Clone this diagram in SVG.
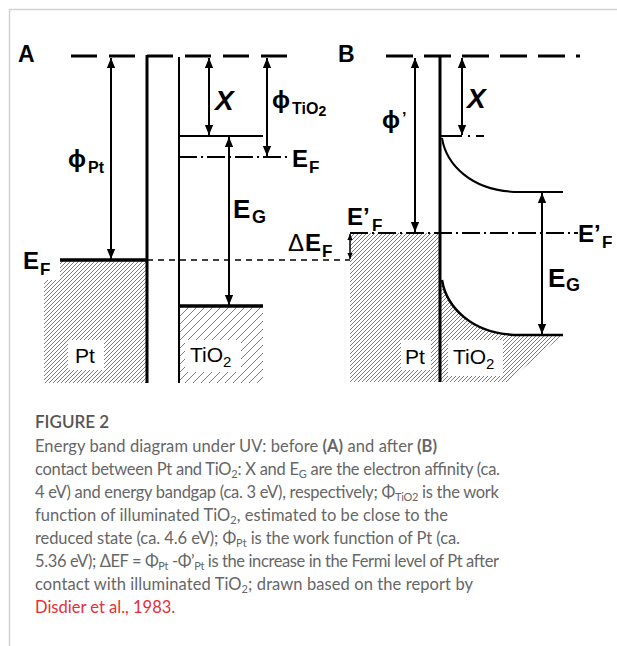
<svg xmlns="http://www.w3.org/2000/svg" width="617" height="646" viewBox="0 0 617 646">
<style>
.lbl{font-family:"Liberation Sans","DejaVu Sans",Arial,sans-serif;font-weight:bold;fill:#000}
.reg{font-family:"Liberation Sans","DejaVu Sans",Arial,sans-serif;font-weight:normal;fill:#000}
.cap{font-family:Lato,"Open Sans",sans-serif;font-size:16.5px;font-weight:400;fill:#666}
.ln{stroke:#000;fill:none}
.arr{stroke:#000;stroke-width:2;fill:none;marker-start:url(#ah);marker-end:url(#ah)}
.dd{stroke-dasharray:18 4 2 4}
</style>
<defs>
<marker id="ah" markerUnits="userSpaceOnUse" markerWidth="10" markerHeight="12" viewBox="0 0 12 10" refX="12" refY="5" orient="auto-start-reverse"><path d="M0,0 L12,5 L0,10 Z" fill="#000"/></marker>
<marker id="ahs" markerUnits="userSpaceOnUse" markerWidth="6" markerHeight="7" viewBox="0 0 8 7" refX="8" refY="3.5" orient="auto-start-reverse"><path d="M0,0 L8,3.5 L0,7 Z" fill="#000"/></marker>
<pattern id="hd" patternUnits="userSpaceOnUse" width="4" height="4"><path d="M-1,1 L1,-1 M0,4 L4,0 M3,5 L5,3" stroke="#444" stroke-width="0.7"/></pattern>
<pattern id="hs" patternUnits="userSpaceOnUse" width="8" height="8"><path d="M-2,2 L2,-2 M0,8 L8,0 M6,10 L10,6" stroke="#444" stroke-width="0.7"/></pattern>
</defs>
<rect x="0" y="0" width="617" height="646" fill="#fff"/>
<path d="M9.5,646 L9.5,9.5 L617,9.5" stroke="#d2d2d2" stroke-width="1.5" fill="none"/>

<g id="panelA">
<text class="lbl" x="18" y="62" font-size="23">A</text>
<g id="A-PtRegion">
<path d="M60,261 L147,261 L147,383 L44,383 L44,280 L60,280 Z" fill="url(#hd)"/>
<rect x="68" y="340" width="36" height="30" fill="#fff"/>
<text class="reg" x="75" y="363" font-size="21">Pt</text>
</g>
<g id="A-TiO2Region">
<rect x="179" y="306" width="84" height="77" fill="url(#hs)"/>
<rect x="185" y="340" width="56" height="32" fill="#fff"/>
<text class="reg" x="190" y="362" font-size="21">TiO<tspan font-size="15" dy="5">2</tspan></text>
</g>
<g id="A-levels">
<line class="ln" x1="71" y1="56" x2="288" y2="56" stroke-width="3" stroke-dasharray="26 12"/>
<line class="ln" x1="147" y1="55" x2="147" y2="383" stroke-width="3"/>
<line class="ln" x1="179" y1="57" x2="179" y2="383" stroke-width="2"/>
<line class="ln" x1="179" y1="136" x2="263" y2="136" stroke-width="2"/>
<line class="ln dd" x1="179" y1="157" x2="288" y2="157" stroke-width="2"/>
<line class="ln" x1="179" y1="306" x2="263" y2="306" stroke-width="3.5"/>
<line class="ln" x1="60" y1="260" x2="147" y2="260" stroke-width="3.5"/>
<line class="ln" x1="147" y1="260" x2="350" y2="260" stroke-width="1.5" stroke-dasharray="6 5"/>
</g>
<text class="lbl" x="23" y="269" font-size="24">E</text><text class="lbl" x="40" y="275" font-size="17">F</text>
<text class="lbl" x="68" y="167" font-size="24">ϕ</text><text class="lbl" x="88" y="173" font-size="16">Pt</text>
<text class="lbl" x="215" y="110" font-size="28" font-style="italic">X</text>
<text class="lbl" x="272" y="108" font-size="24">ϕ</text><text class="lbl" x="292" y="114" font-size="16">TiO<tspan font-size="14" dy="2">2</tspan></text>
<text class="lbl" x="292" y="167" font-size="24">E</text><text class="lbl" x="309" y="173" font-size="17">F</text>
<text class="lbl" x="233" y="218" font-size="26">E</text><text class="lbl" x="252" y="223" font-size="18">G</text>
<text class="reg" x="288" y="251" font-size="24">Δ</text><text class="lbl" x="305" y="251" font-size="24">E</text><text class="lbl" x="322" y="257" font-size="17">F</text>
</g>

<g id="panelB">
<text class="lbl" x="338" y="62" font-size="23">B</text>
<g id="B-PtRegion">
<rect x="350" y="233" width="90" height="149" fill="url(#hd)"/>
<rect x="401" y="340" width="30" height="30" fill="#fff"/>
<text class="reg" x="405" y="364" font-size="21">Pt</text>
</g>
<g id="B-TiO2Region">
<path d="M441,280 C446,305 470,335 520,335 L563,335 L507,382 L441,382 Z" fill="url(#hd)"/>
<rect x="448" y="340" width="55" height="36" fill="#fff"/>
<text class="reg" x="453" y="364" font-size="21">TiO<tspan font-size="15" dy="5">2</tspan></text>
</g>
<g id="B-levels">
<line class="ln" x1="386" y1="56" x2="580" y2="56" stroke-width="3" stroke-dasharray="27 11"/>
<line class="ln" x1="440" y1="57" x2="440" y2="382" stroke-width="3"/>
<line class="ln" x1="440" y1="136" x2="462" y2="136" stroke-width="2"/>
<path class="ln" d="M468,136 L484,136" stroke-width="2" stroke-dasharray="2 6 8 0"/>
<path class="ln" d="M442,138 C446,163 470,192 520,192 L563,192" stroke-width="2"/>
<line class="ln dd" x1="350" y1="233" x2="578" y2="233" stroke-width="2"/>
<path class="ln" d="M442,280 C446,305 470,335 520,335 L563,335" stroke-width="2.5"/>
</g>
<text class="lbl" x="382" y="128" font-size="24">ϕ</text><text class="lbl" x="402" y="124" font-size="16">’</text>
<text class="lbl" x="467" y="108" font-size="28" font-style="italic">X</text>
<text class="lbl" x="347" y="225" font-size="24">E’</text><text class="lbl" x="372" y="231" font-size="17">F</text>
<text class="lbl" x="578" y="242" font-size="24">E’</text><text class="lbl" x="602" y="248" font-size="17">F</text>
<text class="lbl" x="548" y="287" font-size="26">E</text><text class="lbl" x="566" y="291" font-size="18">G</text>
</g>

<g id="connectors">
<line class="arr" x1="111" y1="58" x2="111" y2="259"/>
<line class="arr" x1="209" y1="58" x2="209" y2="135"/>
<line class="arr" x1="267" y1="58" x2="267" y2="156"/>
<line class="arr" x1="229" y1="137" x2="229" y2="305"/>
<line class="arr" x1="415" y1="58" x2="415" y2="232"/>
<line class="arr" x1="462" y1="58" x2="462" y2="135"/>
<line class="arr" x1="542" y1="193" x2="542" y2="334"/>
<line x1="350" y1="234" x2="350" y2="259" stroke="#000" stroke-width="1.5" marker-start="url(#ahs)" marker-end="url(#ahs)"/>
</g>

<g id="caption">
<text class="cap" x="35" y="428" style="font-size:17px;font-weight:600;fill:#555">FIGURE 2</text>
<text class="cap" x="35" y="452" textLength="402" lengthAdjust="spacing">Energy band diagram under UV: before <tspan style="font-weight:bold">(A)</tspan> and after <tspan style="font-weight:bold">(B)</tspan></text>
<text class="cap" x="35" y="475" textLength="465" lengthAdjust="spacing">contact between Pt and TiO<tspan font-size="11" dy="3">2</tspan><tspan dy="-3">: X and E</tspan><tspan font-size="11" dy="3">G</tspan><tspan dy="-3"> are the electron affinity (ca.</tspan></text>
<text class="cap" x="35" y="498" textLength="464" lengthAdjust="spacing">4 eV) and energy bandgap (ca. 3 eV), respectively; Φ<tspan font-size="11" dy="3">TiO2</tspan><tspan dy="-3"> is the work</tspan></text>
<text class="cap" x="35" y="521" textLength="413" lengthAdjust="spacing">function of illuminated TiO<tspan font-size="11" dy="3">2</tspan><tspan dy="-3">, estimated to be close to the</tspan></text>
<text class="cap" x="35" y="544" textLength="425" lengthAdjust="spacing">reduced state (ca. 4.6 eV); Φ<tspan font-size="11" dy="3">Pt</tspan><tspan dy="-3"> is the work function of Pt (ca.</tspan></text>
<text class="cap" x="35" y="567" textLength="464" lengthAdjust="spacing">5.36 eV); ΔEF = Φ<tspan font-size="11" dy="3">Pt</tspan><tspan dy="-3"> -Φ’</tspan><tspan font-size="11" dy="3">Pt</tspan><tspan dy="-3"> is the increase in the Fermi level of Pt after</tspan></text>
<text class="cap" x="35" y="590" textLength="438" lengthAdjust="spacing">contact with illuminated TiO<tspan font-size="11" dy="3">2</tspan><tspan dy="-3">; drawn based on the report by</tspan></text>
<text class="cap" x="35" y="613"><tspan fill="#e52e36">Disdier et al., 1983</tspan>.</text>
</g>
</svg>
